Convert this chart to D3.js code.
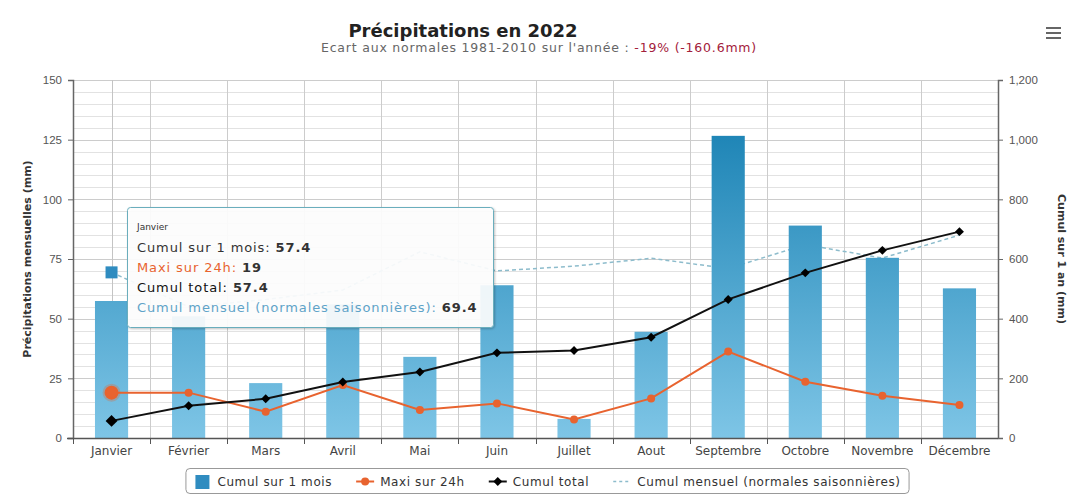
<!DOCTYPE html>
<html>
<head>
<meta charset="utf-8">
<script src="https://cdn.jsdelivr.net/npm/d3@7"></script>
<style>
  body { margin: 0; background: #fff; }
  svg { font-family: 'DejaVu Sans', Verdana, sans-serif; }
</style>
</head>
<body>
<div id="chart"></div>
<script>
// Donnees
var mois = ['Janvier', 'Février', 'Mars', 'Avril', 'Mai', 'Juin', 'Juillet', 'Aout', 'Septembre', 'Octobre', 'Novembre', 'Décembre']
var cumulMois = [57.4, 51, 23, 56, 34, 64, 8, 44.5, 126.6, 89, 75.5, 62.7]
var maxi24h = [19, 19, 11, 22.2, 11.7, 14.5, 7.8, 16.6, 36.2, 23.6, 17.7, 13.8]
var cumulTotal = [57.4, 108.4, 131.4, 187.4, 221.4, 285.4, 293.4, 337.9, 464.5, 553.5, 629, 691.7]
var normales = [69.4, 55, 58, 62, 78, 70, 72, 75.3, 71, 81, 75.4, 85]
var ticksGauche = [0, 25, 50, 75, 100, 125, 150]
var ticksDroite = [0, 200, 400, 600, 800, 1000, 1200]
var legende = ['Cumul sur 1 mois', 'Maxi sur 24h', 'Cumul total', 'Cumul mensuel (normales saisonnières)']

var W = 1073, H = 495
var pLeft = 73, pRight = 998, pTop = 80, pBottom = 438

var svg = d3.select('#chart').append('svg')
  .attr('width', W)
  .attr('height', H)

var x = d3.scaleBand().domain(mois).range([pLeft, pRight])
var yG = d3.scaleLinear().domain([0, 150]).range([pBottom, pTop])
var yD = d3.scaleLinear().domain([0, 1200]).range([pBottom, pTop])
var bw = x.bandwidth()
var cx = function (d) { return x(d) + bw / 2 }

// degrade des colonnes
var defs = svg.append('defs')
var grad = defs.append('linearGradient')
  .attr('id', 'gradBar')
  .attr('gradientUnits', 'userSpaceOnUse')
  .attr('x1', 0).attr('x2', 0)
  .attr('y1', pTop).attr('y2', pBottom)
grad.append('stop').attr('offset', '0%').attr('stop-color', '#0e7aae')
grad.append('stop').attr('offset', '100%').attr('stop-color', '#7ec5e6')

var shadow = defs.append('filter').attr('id', 'ombre')
  .attr('x', '-5%').attr('y', '-5%').attr('width', '110%').attr('height', '115%')
shadow.append('feDropShadow')
  .attr('dx', 1).attr('dy', 1).attr('stdDeviation', 1.2)
  .attr('flood-color', '#000').attr('flood-opacity', 0.25)

// grille horizontale (mineure tous les 5 mm, majeure tous les 25 mm)
svg.append('g').selectAll('line')
  .data(yG.ticks(30))
  .enter().append('line')
  .attr('x1', pLeft).attr('x2', pRight)
  .attr('y1', function (d) { return Math.round(yG(d)) + 0.5 })
  .attr('y2', function (d) { return Math.round(yG(d)) + 0.5 })
  .attr('stroke', '#e2e2e2')

svg.append('g').selectAll('line')
  .data(ticksGauche)
  .enter().append('line')
  .attr('x1', pLeft).attr('x2', pRight)
  .attr('y1', function (d) { return Math.round(yG(d)) + 0.5 })
  .attr('y2', function (d) { return Math.round(yG(d)) + 0.5 })
  .attr('stroke', '#cccccc')

// grille verticale entre les mois
svg.append('g').selectAll('line')
  .data(mois.slice(1))
  .enter().append('line')
  .attr('x1', function (d) { return Math.round(x(d)) + 0.5 })
  .attr('x2', function (d) { return Math.round(x(d)) + 0.5 })
  .attr('y1', pTop).attr('y2', pBottom)
  .attr('stroke', '#cccccc')

// ligne de survol sur Janvier
svg.append('line')
  .attr('x1', Math.round(cx(mois[0])) + 0.5)
  .attr('x2', Math.round(cx(mois[0])) + 0.5)
  .attr('y1', pTop).attr('y2', pBottom)
  .attr('stroke', '#c4c4c4')

// normales (pointilles), sous les colonnes
var ligneG = function (vals) {
  return d3.line()
    .x(function (d, i) { return cx(mois[i]) })
    .y(function (d) { return yG(d) })(vals)
}
svg.append('path')
  .attr('d', ligneG(normales))
  .attr('fill', 'none')
  .attr('stroke', '#8dbccc')
  .attr('stroke-width', 1.5)
  .attr('stroke-dasharray', '4,3')

// colonnes cumul sur 1 mois
svg.append('g').selectAll('rect')
  .data(cumulMois)
  .enter().append('rect')
  .attr('x', function (d, i) { return cx(mois[i]) - bw * 0.215 })
  .attr('width', bw * 0.43)
  .attr('y', function (d) { return yG(d) })
  .attr('height', function (d) { return pBottom - yG(d) })
  .attr('fill', 'url(#gradBar)')

// maxi sur 24h
svg.append('path')
  .attr('d', ligneG(maxi24h))
  .attr('fill', 'none')
  .attr('stroke', '#e8632f')
  .attr('stroke-width', 2)

svg.append('g').selectAll('circle')
  .data(maxi24h)
  .enter().append('circle')
  .attr('cx', function (d, i) { return cx(mois[i]) })
  .attr('cy', function (d) { return yG(d) })
  .attr('r', function (d, i) { return i === 0 ? 7 : 4 })
  .attr('fill', '#e8632f')
  .attr('stroke', function (d, i) { return i === 0 ? 'rgba(232,99,47,0.3)' : 'none' })
  .attr('stroke-width', 4)

// cumul total (axe de droite)
svg.append('path')
  .attr('d', d3.line()
    .x(function (d, i) { return cx(mois[i]) })
    .y(function (d) { return yD(d) })(cumulTotal))
  .attr('fill', 'none')
  .attr('stroke', '#111')
  .attr('stroke-width', 2)

// losanges = carres tournes de 45 degres
var losange = d3.symbol().type(d3.symbolSquare)
svg.append('g').selectAll('path')
  .data(cumulTotal)
  .enter().append('path')
  .attr('transform', function (d, i) { return 'translate(' + cx(mois[i]) + ',' + yD(d) + ') rotate(45)' })
  .attr('d', function (d, i) { return losange.size(i === 0 ? 70 : 40)() })
  .attr('fill', '#000')

// marqueur survole de la normale de Janvier
svg.append('rect')
  .attr('x', cx(mois[0]) - 6)
  .attr('y', yG(normales[0]) - 6)
  .attr('width', 12).attr('height', 12)
  .attr('fill', '#2f8cc0')

// axes
var axeG = svg.append('g')
  .attr('transform', 'translate(' + pLeft + ',0)')
  .call(d3.axisLeft(yG).tickValues(ticksGauche).tickSize(5).tickPadding(6))
var axeD = svg.append('g')
  .attr('transform', 'translate(' + pRight + ',0)')
  .call(d3.axisRight(yD).tickValues(ticksDroite).tickSize(5).tickPadding(6).tickFormat(d3.format(',')))
;[axeG, axeD].forEach(function (a) {
  a.select('.domain').attr('stroke', '#666').attr('stroke-width', 1.5)
  a.selectAll('.tick line').attr('stroke', '#666')
  a.selectAll('.tick text').attr('fill', '#555').attr('font-size', 11.5)
})

svg.append('line')
  .attr('x1', pLeft - 6).attr('x2', pRight)
  .attr('y1', pBottom + 0.5).attr('y2', pBottom + 0.5)
  .attr('stroke', '#555').attr('stroke-width', 1.5)

svg.append('g').selectAll('line')
  .data(mois)
  .enter().append('line')
  .attr('x1', function (d) { return Math.round(x(d)) + 0.5 })
  .attr('x2', function (d) { return Math.round(x(d)) + 0.5 })
  .attr('y1', pBottom).attr('y2', pBottom + 6)
  .attr('stroke', '#555')

svg.append('g').selectAll('text')
  .data(mois)
  .enter().append('text')
  .attr('x', function (d) { return cx(d) })
  .attr('y', pBottom + 17)
  .attr('text-anchor', 'middle')
  .attr('font-size', 12)
  .attr('fill', '#444')
  .text(function (d) { return d })

// titres des axes
svg.append('text')
  .attr('transform', 'translate(31,' + (pTop + pBottom) / 2 + ') rotate(-90)')
  .attr('text-anchor', 'middle')
  .attr('font-size', 11)
  .attr('font-weight', 'bold')
  .attr('fill', '#333')
  .text('Précipitations mensuelles (mm)')

svg.append('text')
  .attr('transform', 'translate(1058,' + (pTop + pBottom) / 2 + ') rotate(90)')
  .attr('text-anchor', 'middle')
  .attr('font-size', 11)
  .attr('font-weight', 'bold')
  .attr('fill', '#333')
  .text('Cumul sur 1 an (mm)')

// titre et sous-titre
svg.append('text')
  .attr('x', 463).attr('y', 37)
  .attr('text-anchor', 'middle')
  .attr('font-size', 18)
  .attr('font-weight', 'bold')
  .attr('fill', '#222')
  .text('Précipitations en 2022')

var sous = svg.append('text')
  .attr('x', 539).attr('y', 52)
  .attr('text-anchor', 'middle')
  .attr('font-size', 12.5)
  .attr('letter-spacing', 0.8)
  .attr('fill', '#666')
sous.append('tspan').text('Ecart aux normales 1981-2010 sur l\'année : ')
sous.append('tspan').attr('fill', '#a3203a').text('-19% (-160.6mm)')

// menu
svg.append('g').selectAll('line')
  .data([0, 1, 2])
  .enter().append('line')
  .attr('x1', 1046).attr('x2', 1061)
  .attr('y1', function (d) { return 28 + d * 5 })
  .attr('y2', function (d) { return 28 + d * 5 })
  .attr('stroke', '#666').attr('stroke-width', 2)

// infobulle sur Janvier
var tip = svg.append('g')
tip.append('rect')
  .attr('x', 127.5).attr('y', 207.5)
  .attr('width', 366).attr('height', 120)
  .attr('rx', 3)
  .attr('fill', 'rgba(255,255,255,0.9)')
  .attr('stroke', '#6aaebd')
  .attr('filter', 'url(#ombre)')
tip.append('text')
  .attr('x', 137).attr('y', 230)
  .attr('font-size', 9)
  .attr('fill', '#333')
  .text(mois[0])
var lignesTip = [
  ['Cumul sur 1 mois: ', cumulMois[0], '#333'],
  ['Maxi sur 24h: ', maxi24h[0], '#e8632f'],
  ['Cumul total: ', cumulTotal[0], '#111'],
  ['Cumul mensuel (normales saisonnières): ', normales[0], '#5fa3c8']
]
lignesTip.forEach(function (l, i) {
  var t = tip.append('text')
    .attr('x', 137).attr('y', 252 + i * 20)
    .attr('font-size', 13)
    .attr('letter-spacing', 0.9)
  t.append('tspan').attr('fill', l[2]).text(l[0])
  t.append('tspan').attr('fill', '#333').attr('font-weight', 'bold').text(l[1])
})

// legende
var cadre = svg.append('rect')
var leg = svg.append('g')
var lx = 0
var gap = 24
legende.forEach(function (nom, i) {
  var g = leg.append('g').attr('transform', 'translate(' + lx + ',0)')
  if (i === 0) {
    g.append('rect').attr('x', 2).attr('y', -6).attr('width', 14).attr('height', 14).attr('fill', '#2f8cc0')
  } else {
    g.append('line').attr('x1', 0).attr('x2', 18).attr('y1', 0.5).attr('y2', 0.5)
      .attr('stroke', ['', '#e8632f', '#111', '#8dbccc'][i])
      .attr('stroke-width', i === 3 ? 1.5 : 2)
      .attr('stroke-dasharray', i === 3 ? '3,3' : null)
    if (i === 1) g.append('circle').attr('cx', 9).attr('cy', 0.5).attr('r', 4).attr('fill', '#e8632f')
    if (i === 2) g.append('path').attr('transform', 'translate(9,0.5) rotate(45)').attr('d', losange.size(40)()).attr('fill', '#000')
  }
  var t = g.append('text')
    .attr('x', 24).attr('y', 4.5)
    .attr('font-size', 12)
    .attr('letter-spacing', 0.6)
    .attr('fill', '#333')
    .text(nom)
  lx += 24 + t.node().getComputedTextLength() + gap
})
var lw = lx - gap + 16
var l0 = 547 - lw / 2
leg.attr('transform', 'translate(' + (l0 + 8) + ',481)')
cadre
  .attr('x', l0 + 0.5).attr('y', 468.5)
  .attr('width', lw).attr('height', 25)
  .attr('rx', 4)
  .attr('fill', 'none')
  .attr('stroke', '#999')
</script>
</body>
</html>
